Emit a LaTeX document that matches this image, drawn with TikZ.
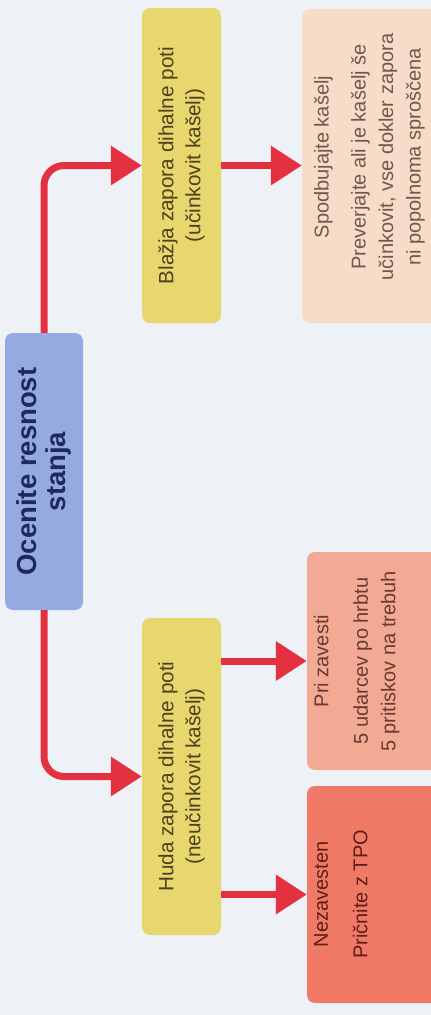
\documentclass[tikz,border=0pt]{standalone}
\usepackage{fontspec}
\setmainfont{Liberation Sans}
\usetikzlibrary{arrows.meta}
\definecolor{bgc}{HTML}{EEF1F6}
\definecolor{bluebox}{HTML}{94AAE0}
\definecolor{bluetxt}{HTML}{1E2A5C}
\definecolor{yelbox}{HTML}{E8D66E}
\definecolor{yeltxt}{HTML}{4E421E}
\definecolor{peachbox}{HTML}{F5DDC9}
\definecolor{peachtxt}{HTML}{735748}
\definecolor{pinkbox}{HTML}{F2AA94}
\definecolor{pinktxt}{HTML}{6A3A31}
\definecolor{redbox}{HTML}{F07A66}
\definecolor{redtxt}{HTML}{5C1F1A}
\definecolor{arrowred}{HTML}{E4313F}
\begin{document}
\begin{tikzpicture}[x=1pt,y=1pt,
  box/.style={rotate=90, rounded corners=8pt, inner sep=0pt, align=center},
  txt/.style={rotate=90, inner sep=0pt, align=center, anchor=north, font=\fontsize{20}{27.5}\selectfont},
  conn/.style={draw=arrowred, line width=7pt, -{Triangle[length=31pt,width=38pt]}, rounded corners=20pt}]
\fill[bgc] (0,0) rectangle (431,-1015);
\clip (0,0) rectangle (431,-1015);

\node[box, fill=bluebox, minimum width=277pt, minimum height=78pt, text=bluetxt,
      font=\bfseries\fontsize{27.5}{29}\selectfont] (assess) at (44,-471.5) {Ocenite resnost\\stanja};

\node[box, fill=yelbox, minimum width=315pt, minimum height=79pt, text=yeltxt,
      font=\fontsize{20.7}{27}\selectfont] (mild) at (181.5,-165.5) {Blažja zapora dihalne poti\\(učinkovit kašelj)};
\node[box, fill=yelbox, minimum width=317pt, minimum height=79pt, text=yeltxt,
      font=\fontsize{20.7}{27}\selectfont] (severe) at (181.5,-776.5) {Huda zapora dihalne poti\\(neučinkovit kašelj)};

\node[box, fill=peachbox, minimum width=314pt, minimum height=138pt] (cough) at (371,-166) {};
\node[box, fill=pinkbox, minimum width=218pt, minimum height=133pt] (conscious) at (373.5,-661) {};
\node[box, fill=redbox, minimum width=217pt, minimum height=133pt] (unconscious) at (373.5,-894.5) {};

\path (cough.north) ++(12,9) node[txt, text=peachtxt] (coughtxt)
  {Spodbujajte kašelj\\[9.5pt]Preverjajte ali je kašelj še\\učinkovit, vse dokler zapora\\ni popolnoma sproščena};
\path (conscious.north) ++(7,0) node[txt, text=pinktxt] (conscioustxt)
  {Pri zavesti\\[12pt]5 udarcev po hrbtu\\5 pritiskov na trebuh};
\path (unconscious.north) ++(7,0) node[txt, text=redtxt] (unconscioustxt)
  {Nezavesten\\[12pt]Pričnite z TPO};

\draw[conn] (assess.east) |- (mild.north);
\draw[conn] (assess.west) |- (severe.north);
\draw[conn] (mild.south) -- (mild.south -| cough.north);
\draw[conn] (conscious.north -| severe.south) -- (conscious.north);
\draw[conn] (unconscious.north -| severe.south) -- (unconscious.north);
\end{tikzpicture}
\end{document}
